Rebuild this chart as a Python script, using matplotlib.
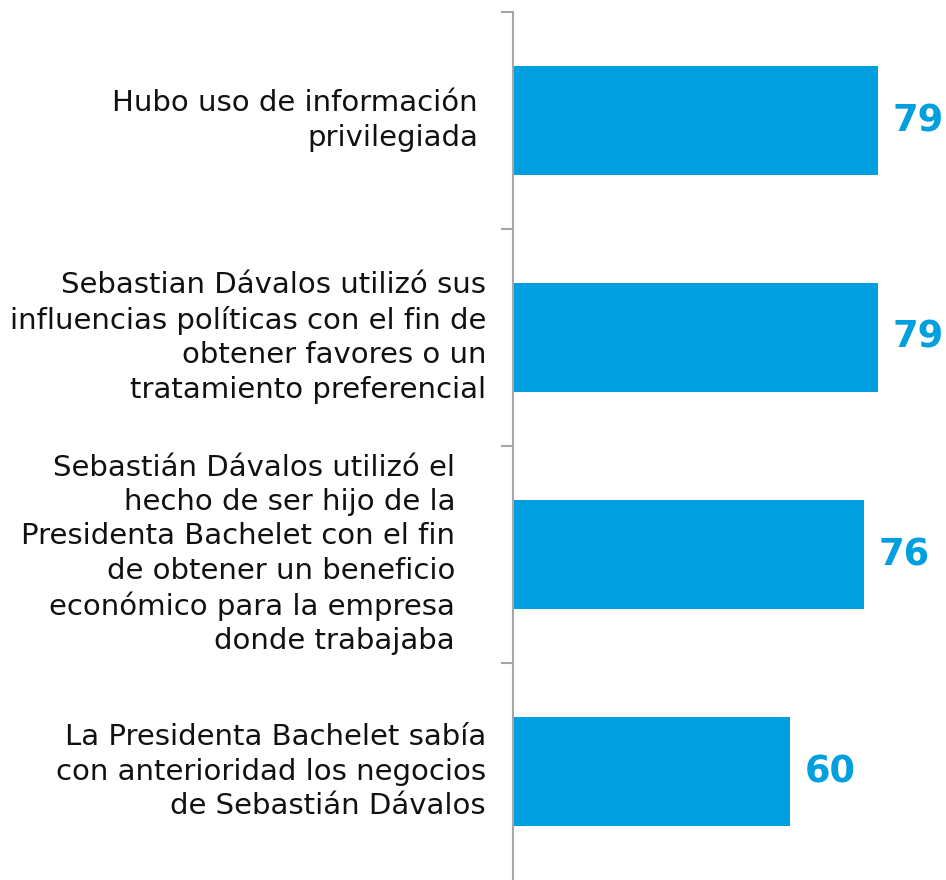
import matplotlib.pyplot as plt
from matplotlib.transforms import blended_transform_factory

# datos
labels = [
    "Hubo uso de información\nprivilegiada",
    "Sebastian Dávalos utilizó sus\ninfluencias políticas con el fin de\nobtener favores o un\ntratamiento preferencial",
    "Sebastián Dávalos utilizó el\nhecho de ser hijo de la\nPresidenta Bachelet con el fin\nde obtener un beneficio\neconómico para la empresa\ndonde trabajaba",
    "La Presidenta Bachelet sabía\ncon anterioridad los negocios\nde Sebastián Dávalos",
]
values = [79, 79, 76, 60]
label_right_px = [478, 486, 455, 486]

blue = "#009FE0"
W, H = 946, 880

fig = plt.figure(figsize=(W / 100, H / 100), dpi=100)
ax = fig.add_axes([513 / W, 0, 1 - 513 / W, (H - 12) / H])

ypos = list(range(len(values)))
ax.barh(ypos, values, height=0.5, color=blue)

ax.set_xlim(0, 433 / 4.62)
ax.set_ylim(3.5, -0.5)

for s in ["top", "right", "bottom"]:
    ax.spines[s].set_visible(False)
ax.spines["left"].set_color("#a6a6a6")
ax.spines["left"].set_linewidth(1.5)
ax.set_xticks([])
ax.set_yticks([-0.5, 0.5, 1.5, 2.5])
ax.set_yticklabels([])
ax.tick_params(axis="y", length=9, width=1.5, color="#a6a6a6")

for y, v in zip(ypos, values):
    ax.text(v + 3.2, y, str(v), color=blue, fontsize=26.5, fontweight="bold",
            ha="left", va="center")

tr = blended_transform_factory(fig.transFigure, ax.transData)
for y, lab, xr in zip(ypos, labels, label_right_px):
    ax.text(xr / W, y, lab, transform=tr, ha="right", va="center",
            multialignment="right", fontsize=21, linespacing=1.29,
            color="#111111")

fig.savefig("out.png", dpi=100)
